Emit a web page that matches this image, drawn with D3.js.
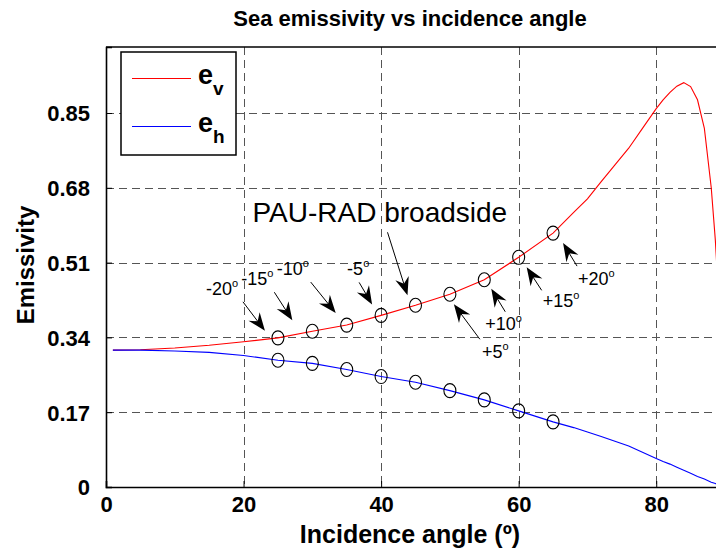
<!DOCTYPE html>
<html>
<head>
<meta charset="utf-8">
<script src="https://cdn.jsdelivr.net/npm/d3@7"></script>
<style>
  html, body { margin: 0; padding: 0; background: #fff; }
  svg { display: block; font-family: "Liberation Sans", Arial, Helvetica, sans-serif; }
</style>
</head>
<body>
<svg id="chart" width="716" height="556"></svg>
<script>
// Incidence angles (degrees) at which the emissivity curves are sampled
const angles = [1, 5, 10, 15, 20, 25, 30, 35, 40, 45, 50, 55, 60, 65, 68, 70, 72, 74, 76, 78, 80, 81, 82, 83, 84, 85, 86, 87, 88, 88.6, 89];
// Vertical polarisation emissivity
const ev = [0.311, 0.312, 0.316, 0.322, 0.330, 0.339, 0.354, 0.368, 0.390, 0.413, 0.438, 0.471, 0.522, 0.577, 0.624, 0.655, 0.694, 0.732, 0.770, 0.815, 0.860, 0.880, 0.897, 0.911, 0.919, 0.910, 0.880, 0.815, 0.680, 0.560, 0.450];
// Horizontal polarisation emissivity
const eh = [0.311, 0.311, 0.309, 0.306, 0.299, 0.288, 0.281, 0.267, 0.251, 0.238, 0.219, 0.198, 0.173, 0.148, 0.135, 0.125, 0.115, 0.104, 0.093, 0.079, 0.065, 0.058, 0.052, 0.045, 0.038, 0.031, 0.024, 0.018, 0.011, 0.008, 0.005];

// Incidence angles seen by the PAU-RAD beams
const beamAngles = [25, 30, 35, 40, 45, 50, 55, 60, 65];
// Beam offsets from broadside, labelled along the e_v curve
const beamLabels = ["-20", "-15", "-10", "-5", "", "+5", "+10", "+15", "+20"];

const xTicks = [0, 20, 40, 60, 80];
const yTicks = [0, 0.17, 0.34, 0.51, 0.68, 0.85];
const yTickLabels = ["0", "0.17", "0.34", "0.51", "0.68", "0.85"];

const titleText = "Sea emissivity vs incidence angle";
const xLabelText = "Incidence angle (\u00BA)";
const yLabelText = "Emissivity";
const broadsideText = "PAU-RAD broadside";

// ---- layout ----
const svg = d3.select("#chart");
const plot = { left: 106, top: 47, right: 725, bottom: 487 };

const x = d3.scaleLinear().domain([0, 90]).range([plot.left, plot.right]);
const y = d3.scaleLinear().domain([0, 1]).range([plot.bottom, plot.top]);

svg.append("defs").append("clipPath").attr("id", "plotClip")
  .append("rect")
  .attr("x", plot.left).attr("y", plot.top)
  .attr("width", plot.right - plot.left).attr("height", plot.bottom - plot.top);

// background
svg.append("rect").attr("x", plot.left).attr("y", plot.top)
  .attr("width", plot.right - plot.left).attr("height", plot.bottom - plot.top)
  .attr("fill", "#fff");

// dashed grid
const grid = svg.append("g").attr("stroke", "#555").attr("stroke-width", 1)
  .attr("stroke-dasharray", "8,5").attr("shape-rendering", "crispEdges");
grid.selectAll(".gx").data(xTicks.filter(d => d > 0)).join("line")
  .attr("x1", d => Math.round(x(d)) + 0.5).attr("x2", d => Math.round(x(d)) + 0.5)
  .attr("y1", plot.top).attr("y2", plot.bottom);
grid.selectAll(".gy").data(yTicks.filter(d => d > 0)).join("line")
  .attr("y1", d => Math.round(y(d)) + 0.5).attr("y2", d => Math.round(y(d)) + 0.5)
  .attr("x1", plot.left).attr("x2", plot.right);

// axes
const xAxis = d3.axisBottom(x).tickValues(xTicks).tickSize(-6).tickPadding(9).tickFormat(d3.format("d"));
const yAxis = d3.axisLeft(y).tickValues(yTicks).tickSize(-6).tickPadding(16)
  .tickFormat((d, i) => yTickLabels[i]);

const gx = svg.append("g").attr("transform", `translate(0,${plot.bottom})`).call(xAxis);
const gy = svg.append("g").attr("transform", `translate(${plot.left},0)`).call(yAxis);
[gx, gy].forEach(g => {
  g.select(".domain").attr("stroke", "#000").attr("stroke-width", 1.6);
  g.selectAll(".tick line").attr("stroke", "#000").attr("stroke-width", 1);
  g.selectAll(".tick text").attr("fill", "#000").attr("font-size", 22).attr("font-weight", "bold")
    .attr("font-family", "Liberation Sans, Arial, sans-serif");
});
gy.selectAll(".tick text").attr("dy", "0.36em");

// top border of the axes box
svg.append("line").attr("x1", plot.left).attr("x2", plot.right)
  .attr("y1", plot.top).attr("y2", plot.top)
  .attr("stroke", "#000").attr("stroke-width", 1.6);

// curves
const evPts = angles.map((a, i) => [a, ev[i]]);
const ehPts = angles.map((a, i) => [a, eh[i]]);
const line = d3.line().x(d => x(d[0])).y(d => y(d[1]));
const curves = svg.append("g").attr("clip-path", "url(#plotClip)");
curves.append("path").datum(evPts).attr("d", line)
  .attr("fill", "none").attr("stroke", "#ff0000").attr("stroke-width", 1.1);
curves.append("path").datum(ehPts).attr("d", line)
  .attr("fill", "none").attr("stroke", "#0000ff").attr("stroke-width", 1.1);

// beam markers on both curves
const valueAt = (series, a) => series[angles.indexOf(a)];
const markers = svg.append("g").attr("fill", "none").attr("stroke", "#000").attr("stroke-width", 1.1);
[ev, eh].forEach(series => {
  markers.selectAll(null).data(beamAngles).join("ellipse")
    .attr("cx", a => x(a)).attr("cy", a => y(valueAt(series, a)))
    .attr("rx", 6).attr("ry", 7);
});

// annotation arrows: tail/tip offsets (px) from each e_v marker, and label offsets
const annot = [
  { tail: [-35, -36], tip: [-13, -7],  text: [-72, -43] },
  { tail: [-38, -39], tip: [-20, -11], text: [-71, -46] },
  { tail: [-36, -43], tip: [-11, -12], text: [-70, -50] },
  { tail: [-22, -33], tip: [-9, -11],  text: [-34, -40] },
  { tail: [-28, -73], tip: [-8, -10],  text: [-163, -83] },
  { tail: [30, 45],   tip: [4, 10],    text: [32, 64] },
  { tail: [21, 32],   tip: [7, 9],     text: [1, 50] },
  { tail: [23, 33],   tip: [8, 10],    text: [24, 50] },
  { tail: [24, 33],   tip: [10, 10],   text: [25, 52] }
];

function arrowHead(tx, ty, ux, uy) {
  const L = 18, W = 7, N = 12;
  const nx = -uy, ny = ux;
  const bx = tx - ux * L, by = ty - uy * L;
  return `M${tx},${ty}L${bx + nx * W},${by + ny * W}L${tx - ux * N},${ty - uy * N}L${bx - nx * W},${by - ny * W}Z`;
}

const ann = svg.append("g");
beamAngles.forEach((a, i) => {
  const px = x(a), py = y(valueAt(ev, a));
  const c = annot[i];
  const t0 = [px + c.tail[0], py + c.tail[1]];
  const t1 = [px + c.tip[0], py + c.tip[1]];
  const dx = t1[0] - t0[0], dy = t1[1] - t0[1];
  const len = Math.hypot(dx, dy), ux = dx / len, uy = dy / len;
  ann.append("line").attr("x1", t0[0]).attr("y1", t0[1])
    .attr("x2", t1[0] - ux * 10).attr("y2", t1[1] - uy * 10)
    .attr("stroke", "#000").attr("stroke-width", 1);
  ann.append("path").attr("d", arrowHead(t1[0], t1[1], ux, uy)).attr("fill", "#000");

  if (beamLabels[i]) {
    const t = ann.append("text").attr("x", px + c.text[0]).attr("y", py + c.text[1])
      .attr("font-size", 18).attr("fill", "#000");
    t.append("tspan").text(beamLabels[i]);
    t.append("tspan").attr("font-size", 11).attr("dy", -8).text("o");
  } else {
    ann.append("text").attr("x", px + c.text[0]).attr("y", py + c.text[1])
      .attr("font-size", 28).attr("fill", "#000").text(broadsideText);
  }
});

// legend
const lg = svg.append("g");
lg.append("rect").attr("x", 121).attr("y", 52).attr("width", 115).attr("height", 103)
  .attr("fill", "#fff").attr("stroke", "#000").attr("stroke-width", 1.5);
const legendItems = [
  { sub: "v", color: "#ff0000" },
  { sub: "h", color: "#0000ff" }
];
legendItems.forEach((d, i) => {
  const ly = 78.5 + i * 48;
  lg.append("line").attr("x1", 132).attr("x2", 191).attr("y1", ly).attr("y2", ly)
    .attr("stroke", d.color).attr("stroke-width", 1.1);
  const t = lg.append("text").attr("x", 198).attr("y", ly + 5)
    .attr("font-size", 27).attr("font-weight", "bold").attr("fill", "#000");
  t.append("tspan").text("e");
  t.append("tspan").attr("font-size", 19).attr("dy", 11).text(d.sub);
});

// titles
svg.append("text").attr("x", 410).attr("y", 26).attr("text-anchor", "middle")
  .attr("font-size", 22).attr("font-weight", "bold").text(titleText);
svg.append("text").attr("x", 410).attr("y", 543).attr("text-anchor", "middle")
  .attr("font-size", 25).attr("font-weight", "bold").text(xLabelText);
svg.append("text").attr("transform", "translate(34,265) rotate(-90)").attr("text-anchor", "middle")
  .attr("font-size", 24).attr("font-weight", "bold").text(yLabelText);
</script>
</body>
</html>
